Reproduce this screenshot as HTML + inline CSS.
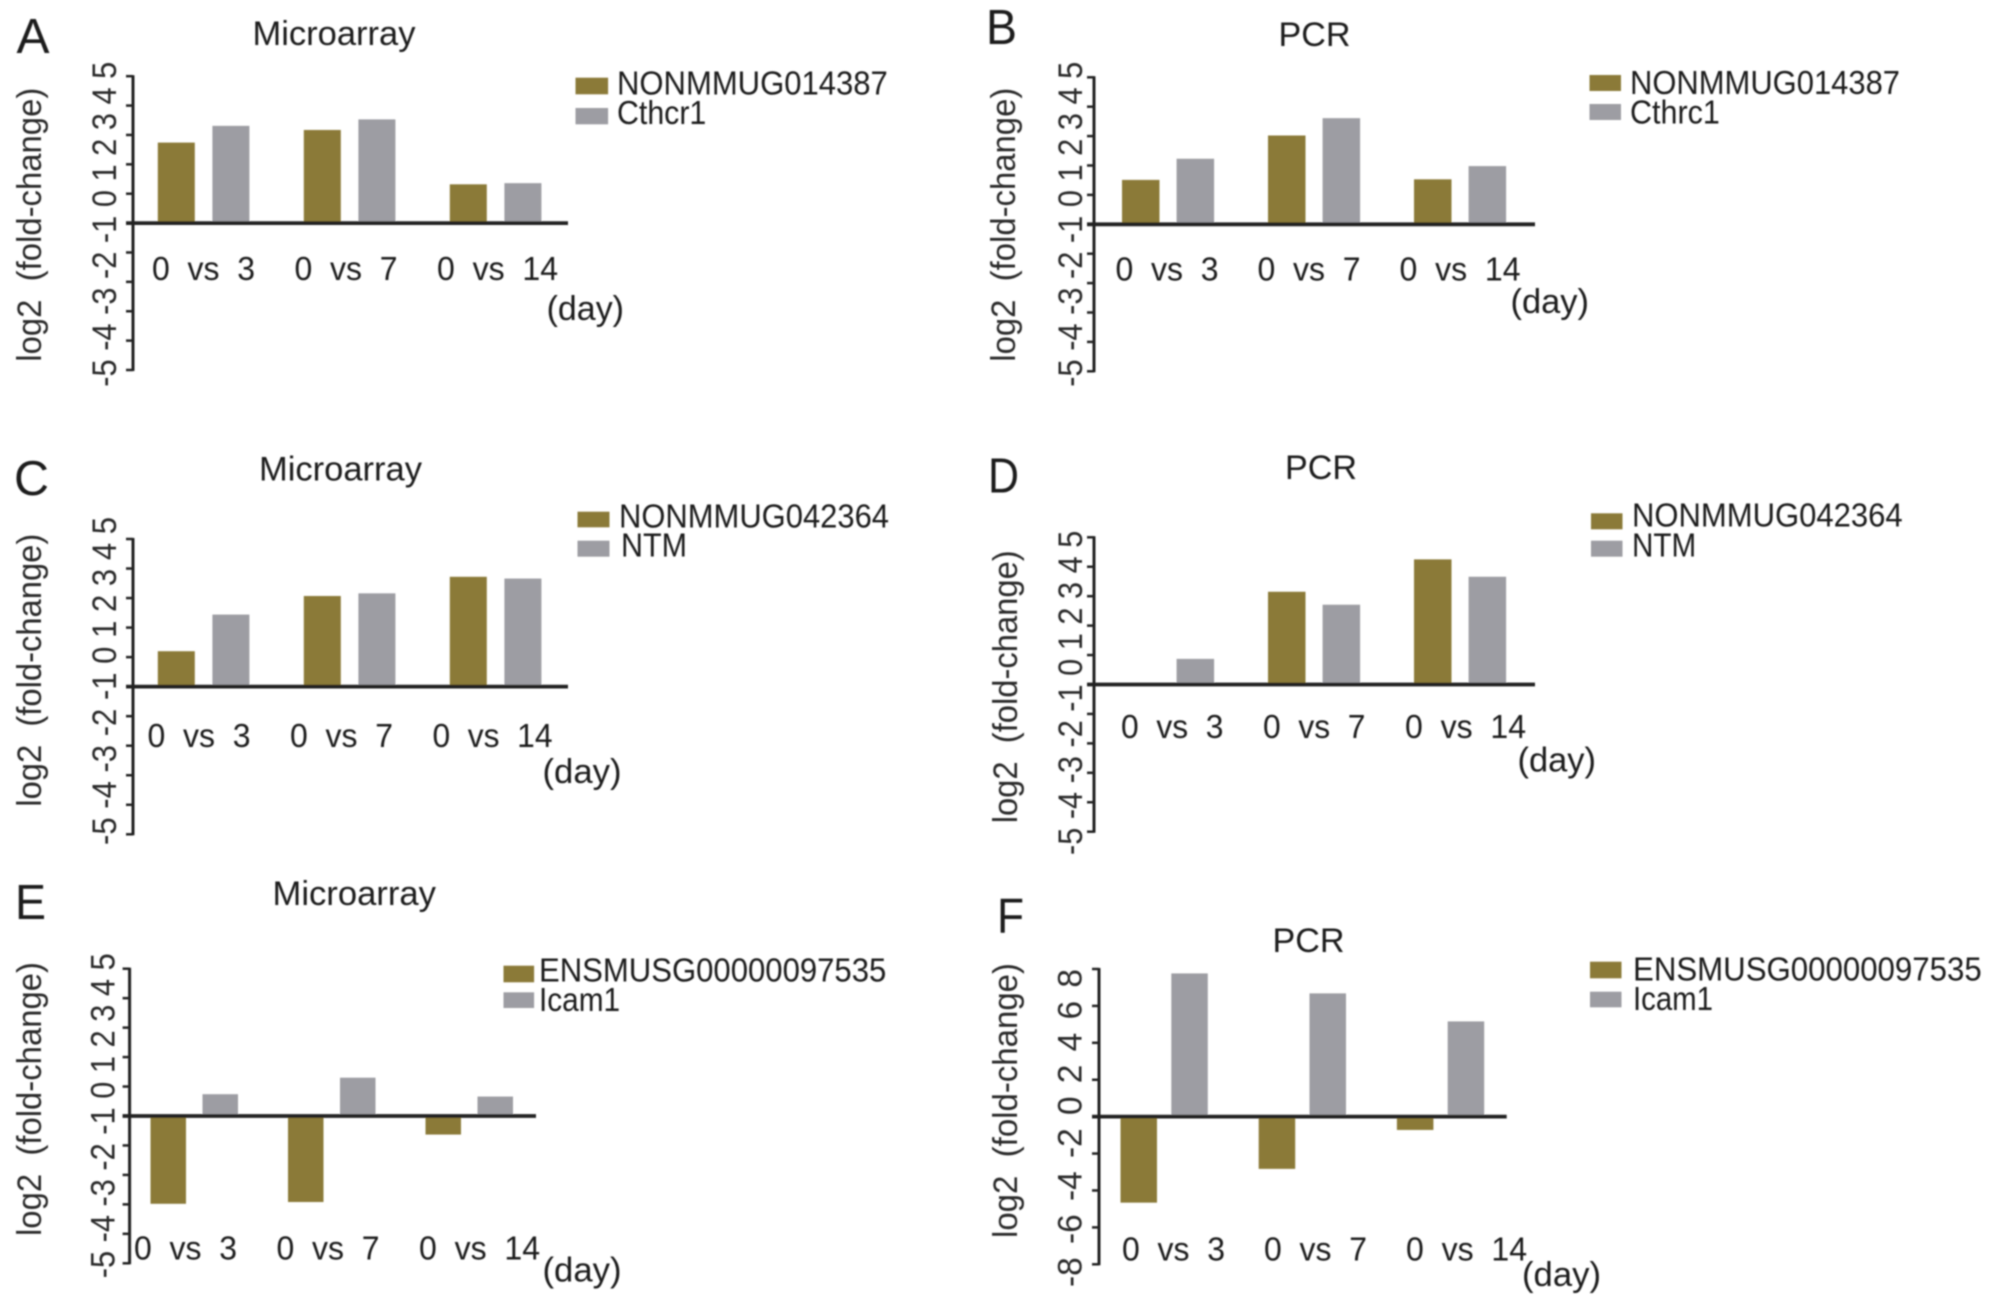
<!DOCTYPE html>
<html lang="en">
<head>
<meta charset="utf-8">
<title>Microarray and PCR fold-change bar charts</title>
<style>
html,body{margin:0;padding:0;background:#fff;width:1992px;height:1307px;overflow:hidden}
svg{display:block}
text{font-family:"Liberation Sans",Arial,sans-serif;fill:#1a1a1a;white-space:pre}
.letter{font-size:49px}
.title{font-size:34px}
.legend{font-size:33px}
.ytitle{font-size:34px;fill:#2a2a2a}
.day{font-size:34px}
.cat{font-size:33px}
.ticklab{font-size:34px;fill:#2a2a2a}
.brown{fill:#8b7a37}
.gray{fill:#9d9da3}
</style>
</head>
<body>
<svg id="figure" xmlns="http://www.w3.org/2000/svg" width="1992" height="1307" viewBox="0 0 1992 1307">
<defs><filter id="soft" x="-2%" y="-2%" width="104%" height="104%"><feGaussianBlur stdDeviation="0.7"/></filter></defs>
<rect x="0" y="0" width="1992" height="1307" fill="#fff"/>
<g id="root" filter="url(#soft)">

<g id="panel-a">
<text class="letter" x="16.5" y="53" textLength="33" lengthAdjust="spacingAndGlyphs">A</text>
<text class="title" x="252.5" y="45" textLength="163" lengthAdjust="spacingAndGlyphs">Microarray</text>
<text class="ytitle" transform="translate(41,361.7) rotate(-90)" textLength="274" lengthAdjust="spacingAndGlyphs">log2  (fold-change)</text>
<rect class="brown" x="575.5" y="77.7" width="32.6" height="16.6"/>
<text class="legend" x="617" y="94.3" textLength="270.8" lengthAdjust="spacingAndGlyphs">NONMMUG014387</text>
<rect class="gray" x="575.5" y="108" width="32.6" height="16.3"/>
<text class="legend" x="617" y="124" textLength="89.3" lengthAdjust="spacingAndGlyphs">Cthcr1</text>
<text class="day" x="546.6" y="320" textLength="77.4" lengthAdjust="spacingAndGlyphs">(day)</text>
</g>

<g id="panel-b">
<text class="letter" x="986" y="44" textLength="31" lengthAdjust="spacingAndGlyphs">B</text>
<text class="title" x="1278.5" y="46" textLength="72" lengthAdjust="spacingAndGlyphs">PCR</text>
<text class="ytitle" transform="translate(1015,361.7) rotate(-90)" textLength="274" lengthAdjust="spacingAndGlyphs">log2  (fold-change)</text>
<rect class="brown" x="1589.5" y="75" width="31.5" height="16"/>
<text class="legend" x="1630" y="94" textLength="270" lengthAdjust="spacingAndGlyphs">NONMMUG014387</text>
<rect class="gray" x="1589.5" y="104" width="31.5" height="16"/>
<text class="legend" x="1630" y="123.3" textLength="89.8" lengthAdjust="spacingAndGlyphs">Cthrc1</text>
<text class="day" x="1510.5" y="313" textLength="78.5" lengthAdjust="spacingAndGlyphs">(day)</text>
</g>

<g id="panel-c">
<text class="letter" x="14" y="495" textLength="35" lengthAdjust="spacingAndGlyphs">C</text>
<text class="title" x="259" y="480.7" textLength="163" lengthAdjust="spacingAndGlyphs">Microarray</text>
<text class="ytitle" transform="translate(41,806.7) rotate(-90)" textLength="273" lengthAdjust="spacingAndGlyphs">log2  (fold-change)</text>
<rect class="brown" x="577.5" y="511.7" width="32" height="15.6"/>
<text class="legend" x="619" y="527.3" textLength="270" lengthAdjust="spacingAndGlyphs">NONMMUG042364</text>
<rect class="gray" x="577.5" y="540.7" width="32" height="16"/>
<text class="legend" x="621" y="556.7" textLength="66" lengthAdjust="spacingAndGlyphs">NTM</text>
<text class="day" x="542.5" y="783" textLength="79" lengthAdjust="spacingAndGlyphs">(day)</text>
</g>

<g id="panel-d">
<text class="letter" x="988" y="492.7" textLength="31" lengthAdjust="spacingAndGlyphs">D</text>
<text class="title" x="1285" y="479" textLength="72" lengthAdjust="spacingAndGlyphs">PCR</text>
<text class="ytitle" transform="translate(1017,823.3) rotate(-90)" textLength="273" lengthAdjust="spacingAndGlyphs">log2  (fold-change)</text>
<rect class="brown" x="1591" y="513.3" width="31.5" height="16"/>
<text class="legend" x="1632" y="526.7" textLength="270.6" lengthAdjust="spacingAndGlyphs">NONMMUG042364</text>
<rect class="gray" x="1591" y="540.7" width="31.5" height="16"/>
<text class="legend" x="1632" y="556.7" textLength="64.2" lengthAdjust="spacingAndGlyphs">NTM</text>
<text class="day" x="1517.5" y="771.7" textLength="78.5" lengthAdjust="spacingAndGlyphs">(day)</text>
</g>

<g id="panel-e">
<text class="letter" x="15" y="919" textLength="31" lengthAdjust="spacingAndGlyphs">E</text>
<text class="title" x="272.5" y="905" textLength="163.4" lengthAdjust="spacingAndGlyphs">Microarray</text>
<text class="ytitle" transform="translate(41,1236) rotate(-90)" textLength="274" lengthAdjust="spacingAndGlyphs">log2  (fold-change)</text>
<rect class="brown" x="503.5" y="965.7" width="30.6" height="16.6"/>
<text class="legend" x="539" y="981.7" textLength="347.3" lengthAdjust="spacingAndGlyphs">ENSMUSG00000097535</text>
<rect class="gray" x="503.5" y="992.3" width="30.6" height="15.7"/>
<text class="legend" x="539" y="1011" textLength="81.1" lengthAdjust="spacingAndGlyphs">Icam1</text>
<text class="day" x="542.5" y="1281.7" textLength="79" lengthAdjust="spacingAndGlyphs">(day)</text>
</g>

<g id="panel-f">
<text class="letter" x="997" y="932.5" textLength="27" lengthAdjust="spacingAndGlyphs">F</text>
<text class="title" x="1272.5" y="952" textLength="72" lengthAdjust="spacingAndGlyphs">PCR</text>
<text class="ytitle" transform="translate(1017,1238) rotate(-90)" textLength="275" lengthAdjust="spacingAndGlyphs">log2  (fold-change)</text>
<rect class="brown" x="1590" y="961.7" width="31.5" height="16.6"/>
<text class="legend" x="1633" y="980.5" textLength="348.7" lengthAdjust="spacingAndGlyphs">ENSMUSG00000097535</text>
<rect class="gray" x="1590" y="991.7" width="31.5" height="15.6"/>
<text class="legend" x="1633" y="1010" textLength="80" lengthAdjust="spacingAndGlyphs">Icam1</text>
<text class="day" x="1522" y="1286" textLength="79" lengthAdjust="spacingAndGlyphs">(day)</text>
</g>

</g>
</svg>
<script>
// ---- chart data ----
const categories = ['0  vs  3', '0  vs  7', '0  vs  14'];
const standardTicks = [5, 4, 3, 2, 1, 0, -1, -2, -3, -4, -5];
const wideTicks = [8, 6, 4, 2, 0, -2, -4, -6, -8];

const panelALncRNA = [2.74, 3.17, 1.32];
const panelAGene = [3.31, 3.53, 1.36];
const panelBLncRNA = [1.51, 3.02, 1.53];
const panelBGene = [2.23, 3.61, 1.98];
const panelCLncRNA = [1.2, 3.07, 3.72];
const panelCGene = [2.44, 3.16, 3.66];
const panelDLncRNA = [0, 3.15, 4.25];
const panelDGene = [0.87, 2.71, 3.66];
const panelELncRNA = [-2.98, -2.92, -0.63];
const panelEGene = [0.74, 1.3, 0.66];
const panelFLncRNA = [-4.66, -2.83, -0.72];
const panelFGene = [7.76, 6.68, 5.16];

// ---- layout of each panel (pixels; not data) ----
const panelLayouts = [
  {id:'a', ticks:standardTicks, lnc:panelALncRNA, gene:panelAGene, axisX:133, top:76.2, bottom:370, end:568,
   barStart:157.8, barW:37, seriesGap:54.6, groupStep:146,
   labelX:116, labelY:386.7, labelLen:325, wordGap:0,
   catX:152, catStep:142.5, catY:280, catW:103, catWLong:121},
  {id:'b', ticks:standardTicks, lnc:panelBLncRNA, gene:panelBGene, axisX:1094, top:77.3, bottom:371.3, end:1535,
   barStart:1122, barW:37.5, seriesGap:54.6, groupStep:146,
   labelX:1082, labelY:386.7, labelLen:325, wordGap:0,
   catX:1115.5, catStep:142, catY:280.5, catW:103, catWLong:121},
  {id:'c', ticks:standardTicks, lnc:panelCLncRNA, gene:panelCGene, axisX:133, top:539, bottom:834.3, end:568,
   barStart:157.8, barW:37, seriesGap:54.6, groupStep:146,
   labelX:116, labelY:845, labelLen:328, wordGap:0,
   catX:147.5, catStep:142.5, catY:747, catW:103, catWLong:120},
  {id:'d', ticks:standardTicks, lnc:panelDLncRNA, gene:panelDGene, axisX:1094, top:537.3, bottom:831.7, end:1535,
   barStart:1122, barW:37.5, seriesGap:54.6, groupStep:146,
   labelX:1082, labelY:855, labelLen:324.3, wordGap:0,
   catX:1121, catStep:142, catY:738, catW:102.5, catWLong:121},
  {id:'e', ticks:standardTicks, lnc:panelELncRNA, gene:panelEGene, axisX:129.6, top:968.7, bottom:1263.3, end:536,
   barStart:150.5, barW:35.5, seriesGap:52, groupStep:137.5,
   labelX:114.6, labelY:1278.3, labelLen:325, wordGap:0,
   catX:134, catStep:142.5, catY:1259.5, catW:103, catWLong:121},
  {id:'f', ticks:wideTicks, lnc:panelFLncRNA, gene:panelFGene, axisX:1099, top:969, bottom:1264.3, end:1506.7,
   barStart:1120.5, barW:36.5, seriesGap:50.8, groupStep:138.2,
   labelX:1081.5, labelY:1287, labelLen:318, wordGap:4,
   catX:1122, catStep:142, catY:1260.5, catW:103, catWLong:121}
];

const SVG_NS = 'http://www.w3.org/2000/svg';
const AXIS_COLOR = '#222';

function shape(parent, tag, attrs) {
  const el = document.createElementNS(SVG_NS, tag);
  Object.keys(attrs).forEach(function (k) { el.setAttribute(k, attrs[k]); });
  parent.appendChild(el);
  return el;
}

function yScale(p) {
  const maxTick = p.ticks[0];
  const minTick = p.ticks[p.ticks.length - 1];
  return function (v) {
    return p.top + (maxTick - v) / (maxTick - minTick) * (p.bottom - p.top);
  };
}

function xScale(p) {
  return function (groupIndex, seriesIndex) {
    return p.barStart + groupIndex * p.groupStep + seriesIndex * p.seriesGap;
  };
}

function drawBars(group, p, y, x, values, seriesIndex, cls, seriesName) {
  values.forEach(function (v, i) {
    const y0 = y(0);
    const yv = y(v);
    const bar = shape(group, 'rect', {
      x: x(i, seriesIndex),
      y: Math.min(y0, yv),
      width: p.barW,
      height: Math.abs(yv - y0),
      class: cls
    });
    
    
  });
}

panelLayouts.forEach(function (p) {
  const group = document.getElementById('panel-' + p.id);
  const y = yScale(p);
  const x = xScale(p);

  drawBars(group, p, y, x, p.lnc, 0, 'brown', 'lncrna');
  drawBars(group, p, y, x, p.gene, 1, 'gray', 'gene');

  const axis = shape(group, 'line', {x1:p.axisX, x2:p.axisX, y1:p.top - 1, y2:p.bottom + 1, stroke:AXIS_COLOR, 'stroke-width':3});
  
  

  p.ticks.forEach(function (t) {
    const tick = shape(group, 'line', {x1:p.axisX - 7, x2:p.axisX, y1:y(t), y2:y(t), stroke:AXIS_COLOR, 'stroke-width':2.5});
    
    
  });

  const baseline = shape(group, 'line', {x1:p.axisX - 7, x2:p.end, y1:y(0), y2:y(0), stroke:AXIS_COLOR, 'stroke-width':3.8});
  
  

  // Tick labels run as one rotated line of text, as in the source figure.
  const run = shape(group, 'text', {
    class: 'ticklab',
    transform: 'translate(' + p.labelX + ',' + p.labelY + ') rotate(-90)',
    textLength: p.labelLen,
    lengthAdjust: 'spacingAndGlyphs'
  });
  run.style.wordSpacing = p.wordGap + 'px';
  
  
  p.ticks.slice().reverse().forEach(function (t, i) {
    if (i > 0) run.appendChild(document.createTextNode(' '));
    const part = shape(run, 'tspan', {});
    part.textContent = String(t);
    
    
  });

  categories.forEach(function (c, i) {
    const label = shape(group, 'text', {
      class: 'cat',
      x: p.catX + i * p.catStep,
      y: p.catY,
      textLength: c.length > 8 ? p.catWLong : p.catW,
      lengthAdjust: 'spacingAndGlyphs'
    });
    label.textContent = c;
    
    
  });
});
</script>
</body>
</html>
